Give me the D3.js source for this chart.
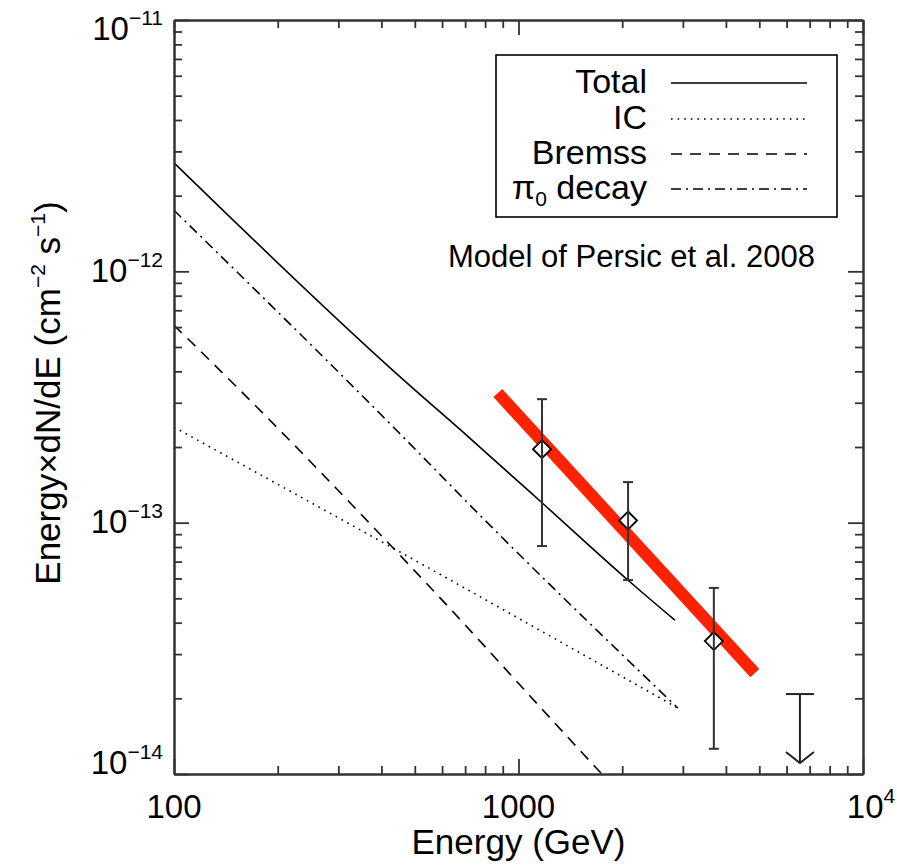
<!DOCTYPE html>
<html>
<head>
<meta charset="utf-8">
<script src="https://cdn.jsdelivr.net/npm/d3@7"></script>
<style>
  body { margin: 0; background: #fff; }
  text { font-family: "Liberation Sans", Arial, Helvetica, sans-serif; fill: #000; }
</style>
</head>
<body>
<svg id="chart" width="897" height="868"></svg>
<script>
// ---- data ----
var totalE = [100, 444, 722, 1170, 2080, 2845];
var totalF = [2.70e-12, 3.90e-13, 2.17e-13, 1.20e-13, 5.9e-14, 4.09e-14];
var icE = [100, 518, 2900];
var icF = [2.40e-13, 6.9e-14, 1.83e-14];
var bremE = [100, 152, 507, 1746, 2000];
var bremF = [6.1e-13, 3.47e-13, 6.3e-14, 1.0e-14, 8.2e-15];
var pionE = [100, 463, 773, 2900];
var pionF = [1.75e-12, 2.19e-13, 1.07e-13, 1.83e-14];
var fitE = [871, 4854];
var fitF = [3.28e-13, 2.52e-14];
var pointE = [1170, 2080, 3690];
var pointF = [1.96e-13, 1.02e-13, 3.38e-14];
var pointLo = [8.07e-14, 5.91e-14, 1.26e-14];
var pointHi = [3.10e-13, 1.45e-13, 5.5e-14];
var limitE = [6560];
var limitF = [2.08e-14];
var xTickLabels = [["100", ""], ["1000", ""], ["10", "4"]];
var yTickLabels = [["10", "\u221211"], ["10", "\u221212"], ["10", "\u221213"], ["10", "\u221214"]];
var legendNames = ["Total", "IC", "Bremss", "\u03c0"];

var svg = d3.select("#chart");
// plot box (note: "top" is taken by window.top, so use other names)
var pLeft = 174, pRight = 863, pTop = 20, pBottom = 774;

var x = d3.scaleLog().domain([100, 1e4]).range([pLeft, pRight]);
var y = d3.scaleLog().domain([1e-14, 1e-11]).range([pBottom, pTop]);

// clip for the curves
svg.append("clipPath").attr("id", "plotclip")
  .append("rect").attr("x", pLeft).attr("y", pTop)
  .attr("width", pRight - pLeft).attr("height", pBottom - pTop);

function pairs(es, fs) { return es.map(function(e, i) { return [e, fs[i]]; }); }
var line = d3.line().x(function(d) { return x(d[0]); }).y(function(d) { return y(d[1]); })
  .curve(d3.curveMonotoneX);

var curves = [
  {d: pairs(totalE, totalF), dash: null},
  {d: pairs(icE, icF), dash: "1.6,5"},
  {d: pairs(bremE, bremF), dash: "11,8"},
  {d: pairs(pionE, pionF), dash: "10,5,2,5"}
];

var g = svg.append("g").attr("clip-path", "url(#plotclip)");
g.selectAll("path.model")
  .data(curves)
  .enter().append("path")
  .attr("class", "model")
  .attr("d", function(c) { return line(c.d); })
  .attr("fill", "none")
  .attr("stroke", "#000")
  .attr("stroke-width", 1.6)
  .attr("stroke-dasharray", function(c) { return c.dash; });

// red power-law fit
g.append("path")
  .attr("d", line(pairs(fitE, fitF)))
  .attr("stroke", "#ff2200")
  .attr("stroke-width", 12)
  .attr("fill", "none");

// data points
var pts = pointE.map(function(e, i) { return {e: e, f: pointF[i], lo: pointLo[i], hi: pointHi[i]}; });
var dsz = 9;
g.selectAll("path.diamond")
  .data(pts)
  .enter().append("path")
  .attr("class", "diamond")
  .attr("d", function(d) {
    var cx = x(d.e), cy = y(d.f);
    return "M" + cx + "," + (cy - dsz) + "L" + (cx + dsz) + "," + cy + "L" + cx + "," + (cy + dsz) + "L" + (cx - dsz) + "," + cy + "Z";
  })
  .attr("fill", "#fff")
  .attr("stroke", "#000")
  .attr("stroke-width", 1.8);

var bars = g.selectAll("g.err").data(pts).enter().append("g").attr("class", "err")
  .attr("stroke", "#333").attr("stroke-width", 2);
bars.append("line")
  .attr("x1", function(d) { return x(d.e); }).attr("x2", function(d) { return x(d.e); })
  .attr("y1", function(d) { return y(d.hi); }).attr("y2", function(d) { return y(d.lo); });
bars.append("line")
  .attr("x1", function(d) { return x(d.e) - 5; }).attr("x2", function(d) { return x(d.e) + 5; })
  .attr("y1", function(d) { return y(d.hi); }).attr("y2", function(d) { return y(d.hi); });
bars.append("line")
  .attr("x1", function(d) { return x(d.e) - 5; }).attr("x2", function(d) { return x(d.e) + 5; })
  .attr("y1", function(d) { return y(d.lo); }).attr("y2", function(d) { return y(d.lo); });

// upper limit
var arrowLen = 69;
var ul = g.selectAll("g.ul").data(pairs(limitE, limitF)).enter().append("g").attr("class", "ul")
  .attr("stroke", "#222").attr("stroke-width", 2).attr("fill", "none");
ul.append("line")
  .attr("x1", function(d) { return x(d[0]) - 14; }).attr("x2", function(d) { return x(d[0]) + 14; })
  .attr("y1", function(d) { return y(d[1]); }).attr("y2", function(d) { return y(d[1]); });
ul.append("line")
  .attr("x1", function(d) { return x(d[0]); }).attr("x2", function(d) { return x(d[0]); })
  .attr("y1", function(d) { return y(d[1]); }).attr("y2", function(d) { return y(d[1]) + arrowLen; });
ul.append("path")
  .attr("d", function(d) {
    var cx = x(d[0]), tip = y(d[1]) + arrowLen;
    return "M" + (cx - 14) + "," + (tip - 11) + "L" + cx + "," + tip + "L" + (cx + 14) + "," + (tip - 11);
  });

// ---- axes: ticks pointing inward on all four sides ----
var xMajor = [100, 1000, 10000];
var yMajor = [1e-11, 1e-12, 1e-13, 1e-14];
var xMinor = x.ticks().filter(function(v) { return xMajor.every(function(m) { return Math.abs(m - v) / m > 1e-6; }); });
var yMinor = y.ticks().filter(function(v) { return yMajor.every(function(m) { return Math.abs(m - v) / m > 1e-6; }); });

function styleAxis(sel) {
  sel.selectAll("path.domain").attr("stroke", "#333").attr("stroke-width", 2);
  sel.selectAll(".tick line").attr("stroke", "#333").attr("stroke-width", 1.8);
  sel.selectAll(".tick text").remove();
}
function addAxis(axisFn, scale, pos, vals, len) {
  var ax = axisFn(scale).tickValues(vals).tickSize(-len).tickSizeOuter(0).tickFormat("");
  var tr = (axisFn === d3.axisBottom || axisFn === d3.axisTop) ? "translate(0," + pos + ")" : "translate(" + pos + ",0)";
  svg.append("g").attr("transform", tr).call(ax).call(styleAxis);
}
addAxis(d3.axisBottom, x, pBottom, xMinor, 8);
addAxis(d3.axisBottom, x, pBottom, xMajor, 15);
addAxis(d3.axisTop, x, pTop, xMinor, 8);
addAxis(d3.axisTop, x, pTop, xMajor, 15);
addAxis(d3.axisLeft, y, pLeft, yMinor, 8);
addAxis(d3.axisLeft, y, pLeft, yMajor, 15);
addAxis(d3.axisRight, y, pRight, yMinor, 8);
addAxis(d3.axisRight, y, pRight, yMajor, 15);

// tick labels
svg.selectAll("text.xlab")
  .data(xMajor)
  .enter().append("text")
  .attr("class", "xlab")
  .attr("x", function(d, i) { return x(d) + (i === 2 ? 8 : 0); })
  .attr("y", 818)
  .attr("text-anchor", "middle")
  .style("font-size", "33px")
  .each(function(d, i) {
    var t = d3.select(this);
    t.append("tspan").text(xTickLabels[i][0]);
    if (xTickLabels[i][1]) t.append("tspan").attr("dy", -15).style("font-size", "21px").text(xTickLabels[i][1]);
  });

var yShift = [20, 11, 10, 0];
svg.selectAll("text.ylab")
  .data(yMajor)
  .enter().append("text")
  .attr("class", "ylab")
  .attr("x", 163)
  .attr("y", function(d, i) { return y(d) + yShift[i]; })
  .attr("text-anchor", "end")
  .style("font-size", "33px")
  .each(function(d, i) {
    var t = d3.select(this);
    t.append("tspan").text(yTickLabels[i][0]);
    t.append("tspan").attr("dy", -15).style("font-size", "21px").text(yTickLabels[i][1]);
  });

// axis titles
svg.append("text")
  .attr("x", (pLeft + pRight) / 2).attr("y", 854)
  .attr("text-anchor", "middle")
  .style("font-size", "35px")
  .text("Energy (GeV)");

var yt = svg.append("text")
  .attr("transform", "translate(60," + ((pTop + pBottom) / 2 - 4) + ") rotate(-90)")
  .attr("text-anchor", "middle")
  .style("font-size", "35px");
yt.append("tspan").text("Energy\u00d7dN/dE (cm");
yt.append("tspan").attr("dy", -15).style("font-size", "21px").text("\u22122");
yt.append("tspan").attr("dy", 15).text(" s");
yt.append("tspan").attr("dy", -15).style("font-size", "21px").text("\u22121");
yt.append("tspan").attr("dy", 15).text(")");

// ---- legend ----
svg.append("rect")
  .attr("x", 496).attr("y", 55).attr("width", 341).attr("height", 162)
  .attr("fill", "#fff").attr("stroke", "#000").attr("stroke-width", 1.6);

var rowY = [83, 119, 154, 189];
var leg = svg.selectAll("g.leg")
  .data(curves)
  .enter().append("g")
  .attr("class", "leg")
  .attr("transform", function(d, i) { return "translate(0," + rowY[i] + ")"; });
leg.append("line")
  .attr("x1", 671).attr("x2", 807)
  .attr("stroke", "#000").attr("stroke-width", 1.6)
  .attr("stroke-dasharray", function(c) { return c.dash; });
leg.append("text")
  .attr("x", 647).attr("y", 10)
  .attr("text-anchor", "end")
  .style("font-size", "34px")
  .each(function(d, i) {
    var t = d3.select(this);
    t.append("tspan").text(legendNames[i]);
    if (i === 3) {
      t.append("tspan").attr("dy", 7).style("font-size", "21px").text("0");
      t.append("tspan").attr("dy", -7).text(" decay");
    }
  });

svg.append("text")
  .attr("x", 448).attr("y", 267)
  .style("font-size", "31px")
  .text("Model of Persic et al. 2008");
</script>
</body>
</html>
